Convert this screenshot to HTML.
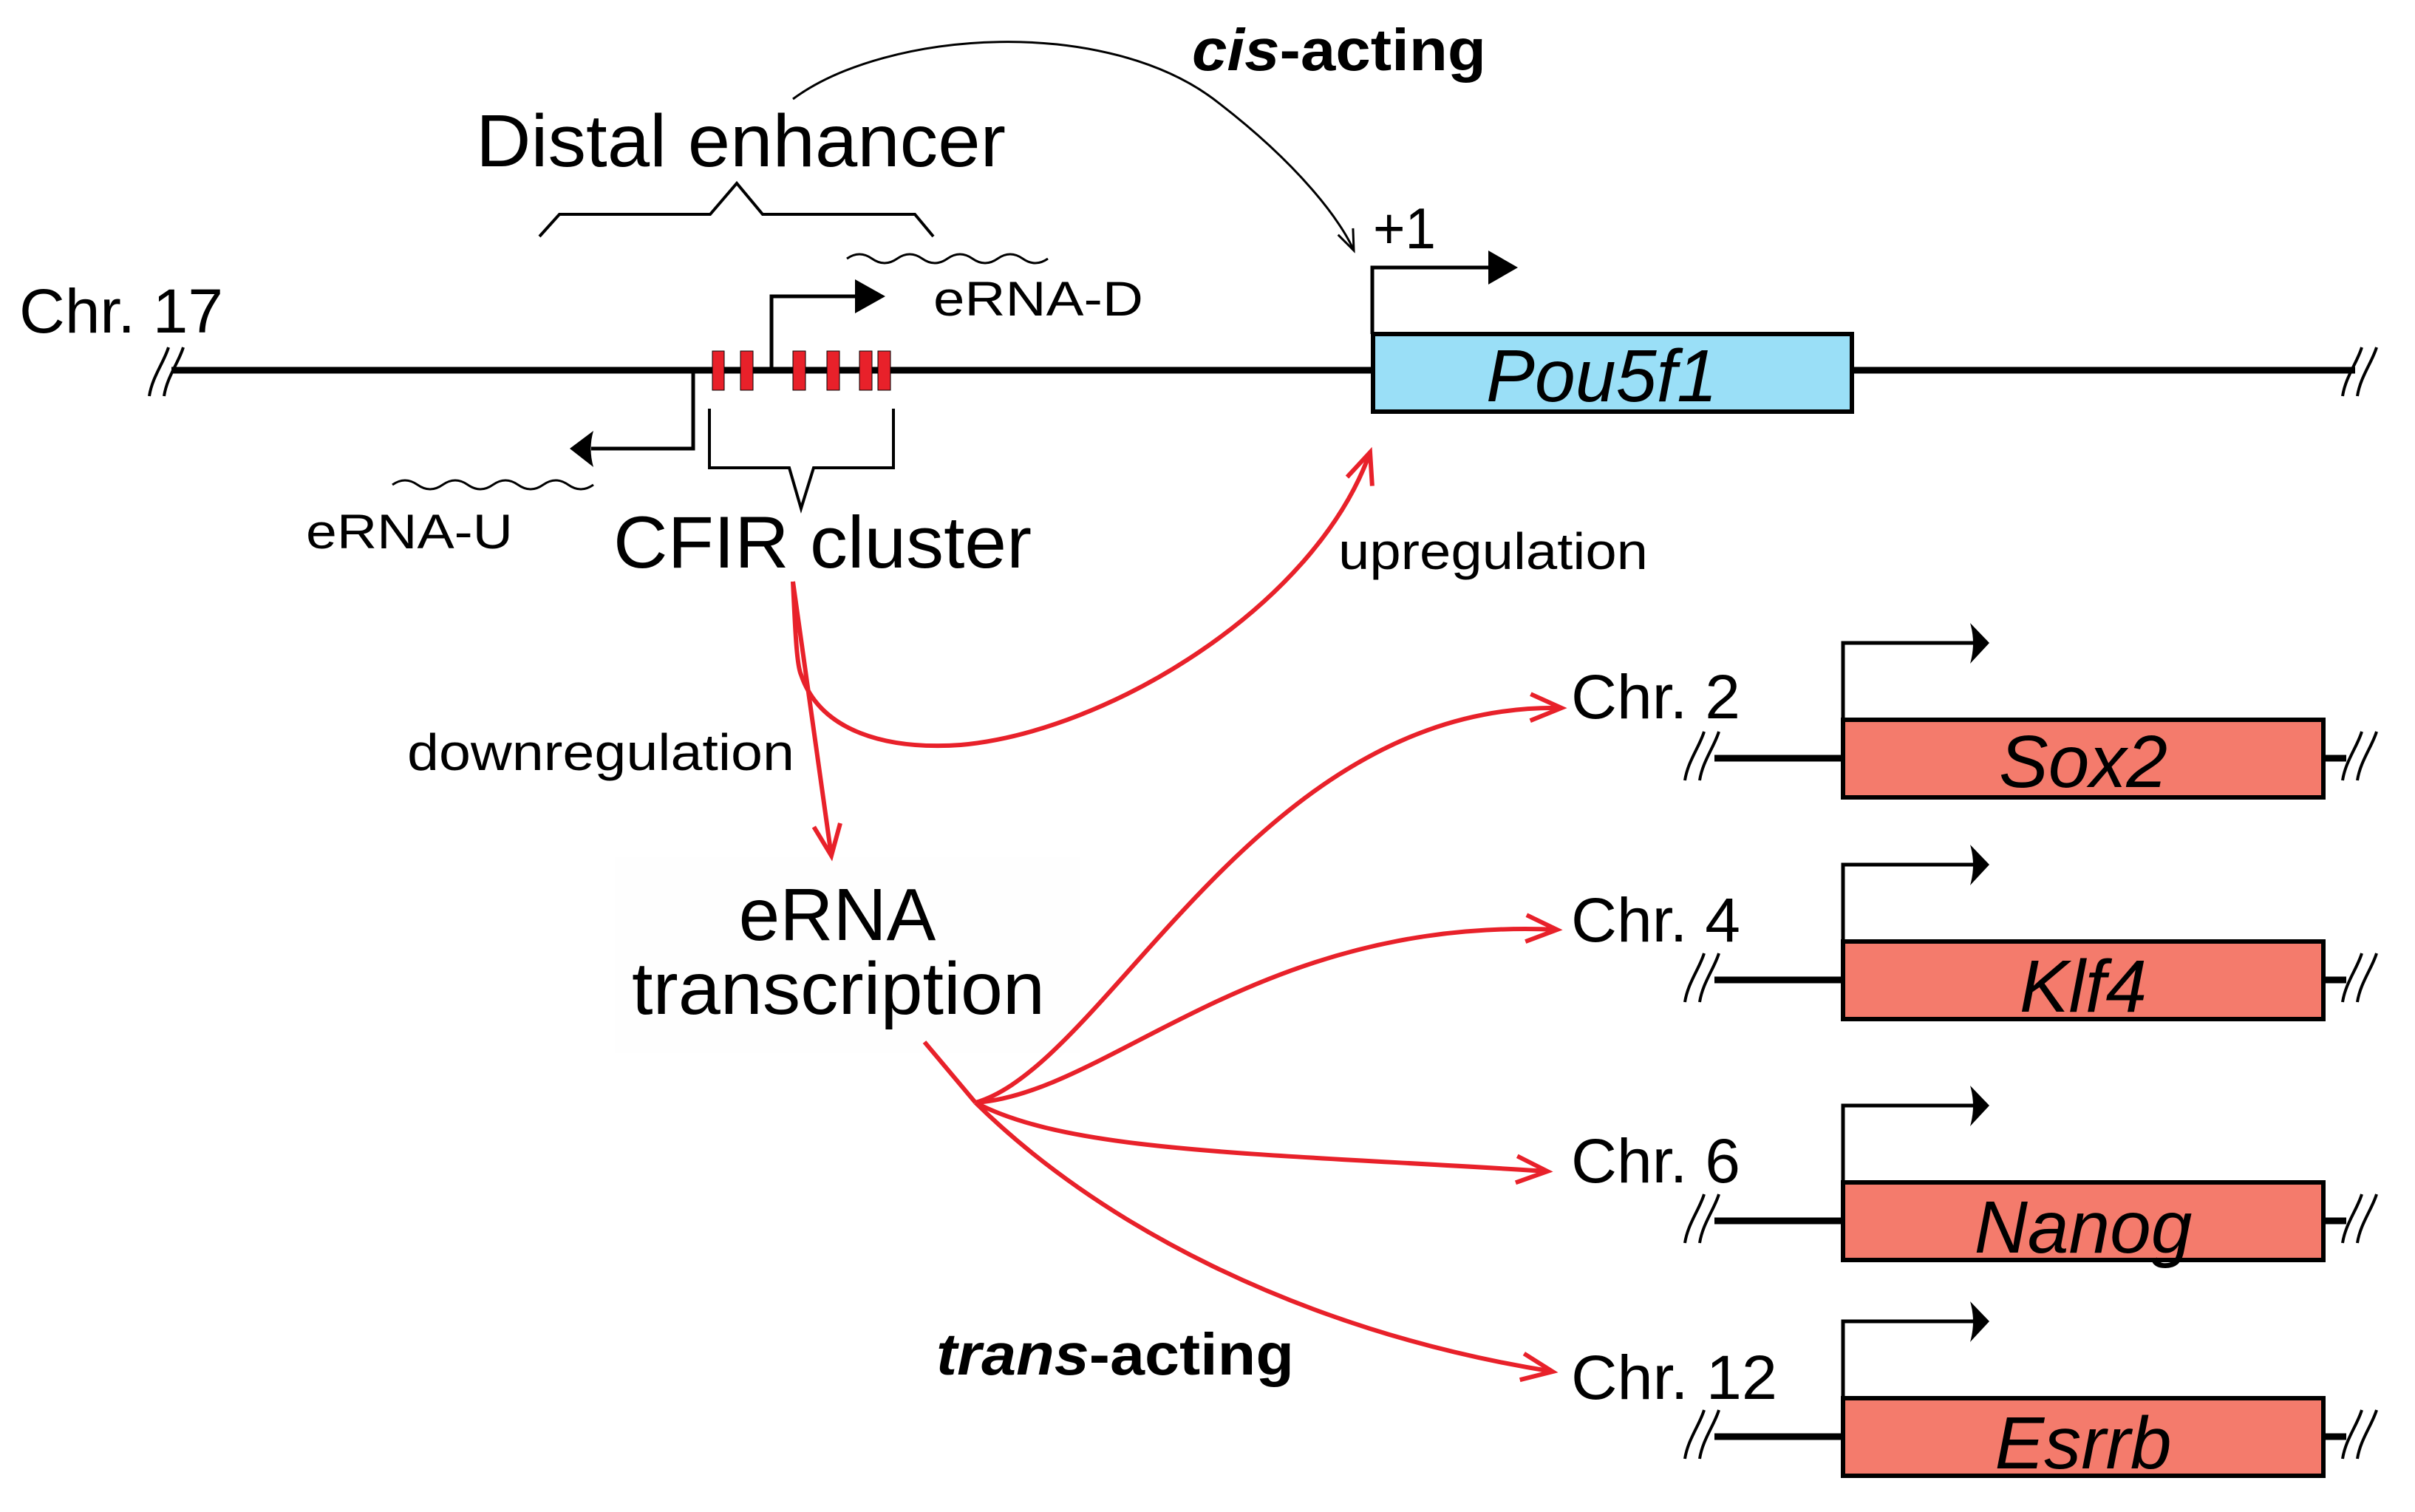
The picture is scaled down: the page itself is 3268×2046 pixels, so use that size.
<!DOCTYPE html>
<html><head><meta charset="utf-8"><style>
html,body{margin:0;padding:0;background:#fff;}
svg{display:block;}
text{font-family:"Liberation Sans",sans-serif;fill:#000;}
</style></head><body>
<svg width="3268" height="2046" viewBox="0 0 3268 2046" xmlns="http://www.w3.org/2000/svg">
<defs>
<marker id="ro" markerUnits="userSpaceOnUse" markerWidth="60" markerHeight="60" refX="44" refY="22" orient="auto">
<path d="M2,4 L44,22 L2,40" fill="none" stroke="#E8212A" stroke-width="6"/></marker>
<marker id="bo" markerUnits="userSpaceOnUse" markerWidth="40" markerHeight="40" refX="30" refY="15" orient="auto">
<path d="M2,4 L30,15 L2,26" fill="none" stroke="#000" stroke-width="3"/></marker>
<g id="row">
<line x1="2320" y1="1026" x2="2491" y2="1026" stroke="#000" stroke-width="9"/>
<line x1="3145" y1="1026" x2="3175" y2="1026" stroke="#000" stroke-width="9"/>
<path d="M2280 1056 C2284 1030,2300 1010,2306 990 M2300 1056 C2304 1030,2320 1010,2326 990 M3170 1056 C3174 1030,3190 1010,3196 990 M3190 1056 C3194 1030,3210 1010,3216 990" fill="none" stroke="#000" stroke-width="4"/>
<rect x="2494" y="974" width="650" height="105" fill="#F47B6C" stroke="#000" stroke-width="6"/>
<path d="M2494 974 V870 H2680" fill="none" stroke="#000" stroke-width="5"/>
<path d="M2692 870 L2666 843 Q2674 870 2666 898 Z" fill="#000"/>
</g>
</defs>
<rect x="832" y="1160" width="630" height="265" fill="#fefefe"/>
<line x1="232" y1="501" x2="3187" y2="501" stroke="#000" stroke-width="9"/>
<path d="M202 536 C206 510,222 490,228 470 M222 536 C226 510,242 490,248 470" fill="none" stroke="#000" stroke-width="4"/>
<path d="M3170 536 C3174 510,3190 490,3196 470 M3190 536 C3194 510,3210 490,3216 470" fill="none" stroke="#000" stroke-width="4"/>
<g fill="#E8212A" stroke="#000" stroke-width="1">
<rect x="964" y="475" width="16" height="53"/><rect x="1002" y="475" width="17" height="53"/>
<rect x="1073" y="475" width="17" height="53"/><rect x="1119" y="475" width="17" height="53"/>
<rect x="1163" y="475" width="17" height="53"/><rect x="1188" y="475" width="17" height="53"/>
</g>
<path d="M1044 501 V401 H1160" fill="none" stroke="#000" stroke-width="5"/>
<path d="M1157 378 L1198 401 L1157 424 Z" fill="#000"/>
<path d="M938 501 V607 H800" fill="none" stroke="#000" stroke-width="5"/>
<path d="M771 607 L803 583 Q796 607 803 632 Z" fill="#000"/>
<path d="M1146 350 q17 -12 34 0 t34 0 t34 0 t34 0 t34 0 t34 0 t34 0 t34 0" fill="none" stroke="#000" stroke-width="3"/>
<path d="M531 656 q17 -12 34 0 t34 0 t34 0 t34 0 t34 0 t34 0 t34 0 t34 0" fill="none" stroke="#000" stroke-width="3"/>
<path d="M730 320 L757 290 H961 L997 248 L1032 290 H1238 L1263 320" fill="none" stroke="#000" stroke-width="4"/>
<path d="M960 553 V633 H1068 L1084 688 L1101 633 H1209 V553" fill="none" stroke="#000" stroke-width="4"/>
<path d="M1073 134 C1200 40,1500 20,1650 140 C1760 225,1815 300,1832 339" fill="none" stroke="#000" stroke-width="3" marker-end="url(#bo)"/>
<rect x="1858" y="452" width="648" height="105" fill="#9ADFF7" stroke="#000" stroke-width="6"/>
<path d="M1857 452 V362 H2020" fill="none" stroke="#000" stroke-width="5"/>
<path d="M2014 339 L2054 362 L2014 385 Z" fill="#000"/>
<use href="#row"/>
<use href="#row" transform="translate(0,300)"/>
<use href="#row" transform="translate(0,626)"/>
<use href="#row" transform="translate(0,918)"/>
<g fill="none" stroke="#E8212A" stroke-width="6">
<path d="M1073 787 C1076 850,1078 900,1084 913 C1110 990,1200 1015,1300 1008 C1500 990,1780 820,1854 612" marker-end="url(#ro)"/>
<path d="M1073 787 L1125 1158" marker-end="url(#ro)"/>
<path d="M1251 1410 L1320 1492"/>
<path d="M1320 1492 C1500 1440,1700 950,2113 958" marker-end="url(#ro)"/>
<path d="M1320 1492 C1500 1480,1700 1240,2107 1258" marker-end="url(#ro)"/>
<path d="M1320 1492 C1450 1560,1700 1560,2094 1585" marker-end="url(#ro)"/>
<path d="M1320 1492 C1480 1650,1750 1800,2101 1856" marker-end="url(#ro)"/>
</g>
<text x="644" y="225" font-size="100" textLength="717" lengthAdjust="spacingAndGlyphs">Distal enhancer</text>
<text x="26" y="450" font-size="84" textLength="276" lengthAdjust="spacingAndGlyphs">Chr. 17</text>
<text x="1263" y="427" font-size="66" textLength="284" lengthAdjust="spacingAndGlyphs">eRNA-D</text>
<text x="414" y="742" font-size="66" textLength="280" lengthAdjust="spacingAndGlyphs">eRNA-U</text>
<text x="830" y="768" font-size="99" textLength="566" lengthAdjust="spacingAndGlyphs">CFIR cluster</text>
<text x="1613" y="95" font-size="80" font-weight="bold" textLength="398" lengthAdjust="spacingAndGlyphs"><tspan font-style="italic">cis</tspan>-acting</text>
<text x="1858" y="336" font-size="78" textLength="85" lengthAdjust="spacingAndGlyphs">+1</text>
<text x="2011" y="543" font-size="100" font-style="italic" textLength="313" lengthAdjust="spacingAndGlyphs">Pou5f1</text>
<text x="1811" y="770" font-size="70" textLength="419" lengthAdjust="spacingAndGlyphs">upregulation</text>
<text x="551" y="1042" font-size="70" textLength="524" lengthAdjust="spacingAndGlyphs">downregulation</text>
<text x="1133" y="1272" font-size="100" text-anchor="middle">eRNA</text>
<text x="855" y="1372" font-size="100" textLength="559" lengthAdjust="spacingAndGlyphs">transcription</text>
<text x="1267" y="1860" font-size="80" font-weight="bold" textLength="484" lengthAdjust="spacingAndGlyphs"><tspan font-style="italic">trans</tspan>-acting</text>
<text x="2126" y="972" font-size="84" textLength="229" lengthAdjust="spacingAndGlyphs">Chr. 2</text>
<text x="2126" y="1274" font-size="84" textLength="229" lengthAdjust="spacingAndGlyphs">Chr. 4</text>
<text x="2126" y="1600" font-size="84" textLength="229" lengthAdjust="spacingAndGlyphs">Chr. 6</text>
<text x="2126" y="1893" font-size="84" textLength="279" lengthAdjust="spacingAndGlyphs">Chr. 12</text>
<text x="2819" y="1065" font-size="100" font-style="italic" text-anchor="middle">Sox2</text>
<text x="2819" y="1369" font-size="100" font-style="italic" text-anchor="middle">Klf4</text>
<text x="2819" y="1695" font-size="100" font-style="italic" text-anchor="middle">Nanog</text>
<text x="2819" y="1987" font-size="100" font-style="italic" text-anchor="middle">Esrrb</text>
</svg>
</body></html>
